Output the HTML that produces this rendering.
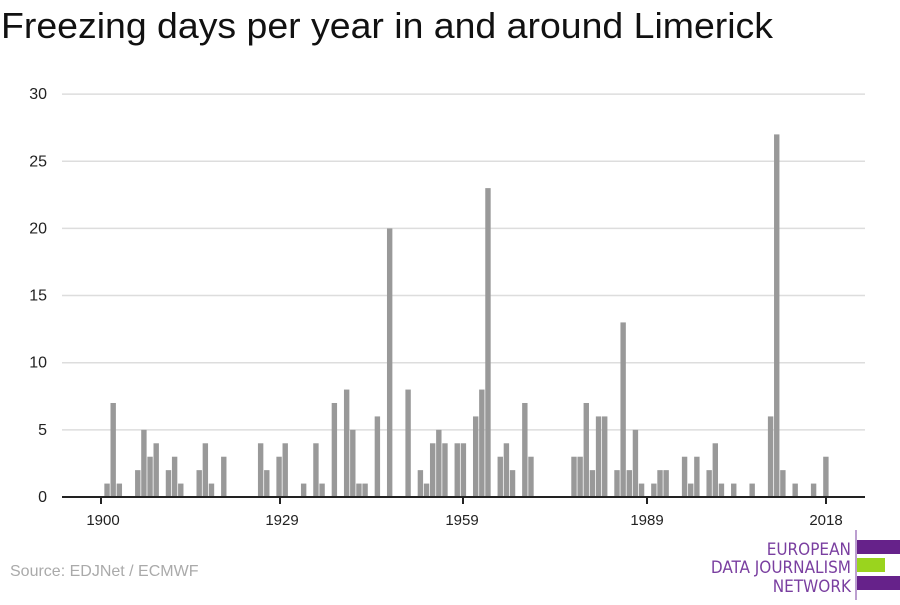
<!DOCTYPE html>
<html><head><meta charset="utf-8"><style>
body{margin:0;background:#fff;width:900px;height:600px;overflow:hidden;font-family:"Liberation Sans",sans-serif}
</style></head><body>
<svg id="s" width="900" height="600" xmlns="http://www.w3.org/2000/svg">
<text x="1" y="38" font-size="36" fill="#111" textLength="772" lengthAdjust="spacingAndGlyphs" font-family="Liberation Sans, sans-serif">Freezing days per year in and around Limerick</text>
<g id="grid"></g><g id="bars" fill="#999"></g>
<line x1="62" y1="497" x2="865" y2="497" stroke="#222" stroke-width="2"/>
<g font-size="15" fill="#222" text-anchor="middle">
<line x1="101" y1="497" x2="101" y2="504" stroke="#222" stroke-width="2"/><text x="103" y="525">1900</text>
<line x1="280" y1="497" x2="280" y2="504" stroke="#222" stroke-width="2"/><text x="282" y="525">1929</text>
<line x1="463" y1="497" x2="463" y2="504" stroke="#222" stroke-width="2"/><text x="462" y="525">1959</text>
<line x1="647" y1="497" x2="647" y2="504" stroke="#222" stroke-width="2"/><text x="647" y="525">1989</text>
<line x1="826" y1="497" x2="826" y2="504" stroke="#222" stroke-width="2"/><text x="826" y="525">2018</text>
</g>
<text x="10" y="576" font-size="16" fill="#aaa">Source: EDJNet / ECMWF</text>
<g font-size="17" fill="#7a3fa0" text-anchor="end" font-family="DejaVu Sans Condensed, Liberation Sans Narrow, sans-serif">
<text x="851" y="555">EUROPEAN</text>
<text x="851" y="573">DATA JOURNALISM</text>
<text x="851" y="592">NETWORK</text>
</g>
<line x1="856" y1="530" x2="856" y2="600" stroke="#7a3fa0" stroke-width="1"/>
<rect x="857" y="540" width="43" height="14" fill="#66228a"/>
<rect x="857" y="558" width="28" height="14" fill="#9ad41e"/>
<rect x="857" y="576" width="43" height="14" fill="#66228a"/>
</svg>
<script>
var d={1901:1,1902:7,1903:1,1906:2,1907:5,1908:3,1909:4,1911:2,1912:3,1913:1,1916:2,1917:4,1918:1,1920:3,1926:4,1927:2,1929:3,1930:4,1933:1,1935:4,1936:1,1938:7,1940:8,1941:5,1942:1,1943:1,1945:6,1947:20,1950:8,1952:2,1953:1,1954:4,1955:5,1956:4,1958:4,1959:4,1961:6,1962:8,1963:23,1965:3,1966:4,1967:2,1969:7,1970:3,1977:3,1978:3,1979:7,1980:2,1981:6,1982:6,1984:2,1985:13,1986:2,1987:5,1988:1,1990:1,1991:2,1992:2,1995:3,1996:1,1997:3,1999:2,2000:4,2001:1,2003:1,2006:1,2009:6,2010:27,2011:2,2013:1,2016:1,2018:3};
var ns="http://www.w3.org/2000/svg",g=document.getElementById('grid'),b=document.getElementById('bars');
for(var v=0;v<=30;v+=5){var y=497-v*13.43;
if(v>0){var l=document.createElementNS(ns,'line');l.setAttribute('x1',62);l.setAttribute('x2',865);l.setAttribute('y1',y);l.setAttribute('y2',y);l.setAttribute('stroke','#ddd');l.setAttribute('stroke-width','1.5');g.appendChild(l);}
var t=document.createElementNS(ns,'text');t.setAttribute('x',47);t.setAttribute('y',y+5);t.setAttribute('text-anchor','end');t.setAttribute('font-size','16');t.setAttribute('fill','#222');t.textContent=v;g.appendChild(t);}
for(var k in d){var x=101+6.144*(k-1900),h=d[k]*13.43;var r=document.createElementNS(ns,'rect');r.setAttribute('x',x-2.8);r.setAttribute('width',5.4);r.setAttribute('y',497-h);r.setAttribute('height',h);b.appendChild(r);}
</script>
</body></html>
